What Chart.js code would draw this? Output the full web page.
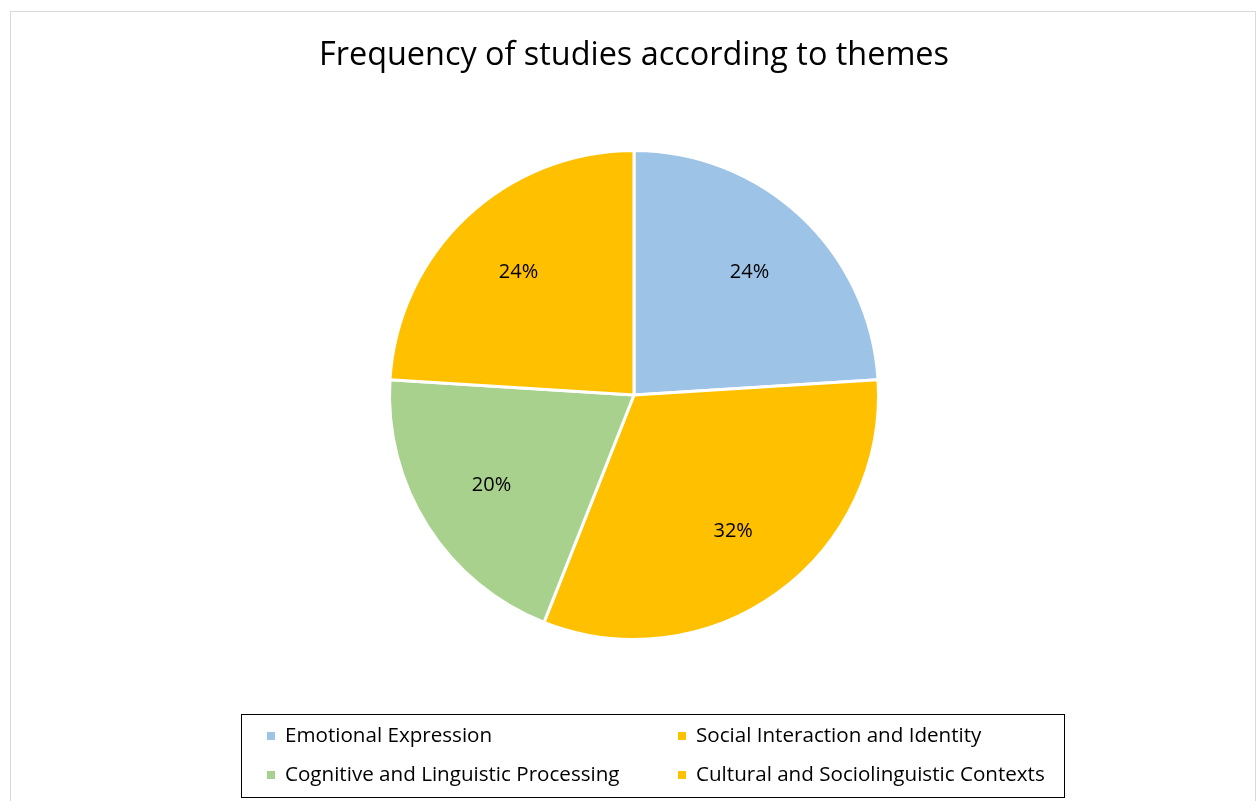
<!DOCTYPE html>
<html>
<head>
<meta charset="utf-8">
<script src="https://cdn.jsdelivr.net/npm/chart.js@4.4.1/dist/chart.umd.min.js"></script>
<style>
  html, body { margin: 0; padding: 0; background: #fff; }
  #wrap { position: relative; width: 1258px; height: 801px; overflow: hidden; }
  #frame { position: absolute; left: 10px; top: 11px; width: 1246px; height: 800px; border: 1px solid #D9D9D9; box-sizing: border-box; }
  canvas { position: absolute; left: 0; top: 0; }
</style>
</head>
<body>
<div id="wrap">
  <div id="frame"></div>
  <canvas id="c" width="1258" height="801"></canvas>
</div>
<script>
const titleText = 'Frequency of studies according to themes';
const categories = [
  'Emotional Expression',
  'Social Interaction and Identity',
  'Cognitive and Linguistic Processing',
  'Cultural and Sociolinguistic Contexts'
];
const studyCounts = [6, 8, 5, 6];
const sliceColors = ['#9DC3E6', '#FFC000', '#A9D18E', '#FFC000'];

const FONT = "'Open Sans', 'Noto Sans', sans-serif";

const titleDraw = {
  id: 'titleDraw',
  afterDraw(chart) {
    const ctx = chart.ctx;
    ctx.save();
    ctx.font = '32.4px ' + FONT;
    ctx.fillStyle = '#000';
    ctx.textAlign = 'center';
    ctx.textBaseline = 'middle';
    ctx.fillText(titleText, 634, 56);
    ctx.restore();
  }
};

const pctLabels = {
  id: 'pctLabels',
  afterDatasetsDraw(chart) {
    const ctx = chart.ctx;
    const meta = chart.getDatasetMeta(0);
    const data = chart.data.datasets[0].data;
    const total = data.reduce((a, b) => a + b, 0);
    ctx.save();
    ctx.font = '20px ' + FONT;
    ctx.fillStyle = '#000';
    ctx.textAlign = 'center';
    ctx.textBaseline = 'middle';
    meta.data.forEach((arc, i) => {
      const p = arc.getProps(['x', 'y', 'startAngle', 'endAngle', 'outerRadius'], true);
      const mid = (p.startAngle + p.endAngle) / 2;
      const r = p.outerRadius * 0.69;
      const pct = Math.round(data[i] / total * 100) + '%';
      ctx.fillText(pct, p.x + Math.cos(mid) * r, p.y + Math.sin(mid) * r);
    });
    ctx.restore();
  }
};

const boxLegend = {
  id: 'boxLegend',
  afterDraw(chart) {
    const ctx = chart.ctx;
    const left = 241.5, top = 714.5, right = 1064.5, bottom = 797.5;
    ctx.save();
    ctx.strokeStyle = '#000';
    ctx.lineWidth = 1;
    ctx.strokeRect(left, top, right - left, bottom - top);
    ctx.font = '20.6px ' + FONT;
    ctx.textBaseline = 'middle';
    ctx.textAlign = 'left';
    const colX = [267, 678];
    const rowY = [736, 775];
    chart.data.labels.forEach((lab, i) => {
      const col = i % 2, row = Math.floor(i / 2);
      const x = colX[col], y = rowY[row];
      ctx.fillStyle = chart.data.datasets[0].backgroundColor[i];
      ctx.fillRect(x, y - 4, 8, 8);
      ctx.fillStyle = '#000';
      ctx.fillText(lab, x + 18, y);
    });
    ctx.restore();
  }
};

new Chart(document.getElementById('c'), {
  type: 'pie',
  data: {
    labels: categories,
    datasets: [{
      data: studyCounts,
      backgroundColor: sliceColors,
      borderColor: '#FFFFFF',
      borderWidth: 3
    }]
  },
  options: {
    responsive: false,
    animation: false,
    devicePixelRatio: 1,
    layout: { padding: { left: 388, right: 378, top: 149, bottom: 160 } },
    plugins: {
      legend: { display: false },
      tooltip: { enabled: false },
      title: { display: false }
    }
  },
  plugins: [pctLabels, boxLegend, titleDraw]
});
</script>
</body>
</html>
